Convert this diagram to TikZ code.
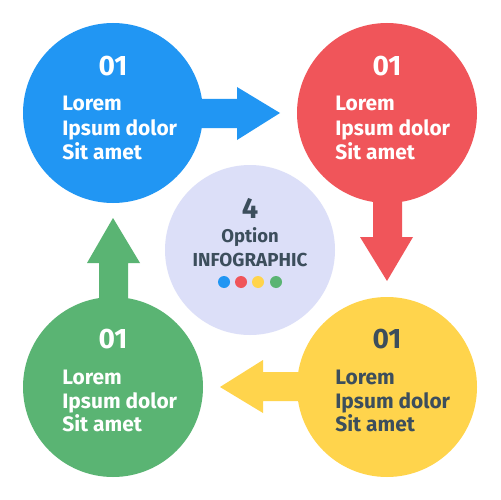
\documentclass[tikz,border=0pt]{standalone}
\usepackage{fontspec}
\setmainfont{Fira Sans}
\definecolor{cblue}{RGB}{33,150,243}
\definecolor{cred}{RGB}{240,85,90}
\definecolor{cgreen}{RGB}{90,180,115}
\definecolor{cyellow}{RGB}{255,212,76}
\definecolor{ccenter}{RGB}{220,223,248}
\definecolor{cdark}{RGB}{60,78,92}
\tikzset{
  bigcirc/.style={circle,minimum size=180*0.02cm,inner sep=0pt},
  numtxt/.style={font=\bfseries\fontsize{16}{18}\selectfont,anchor=base,inner sep=0pt},
  bodytxt/.style={font=\bfseries\fontsize{11.9}{13.6}\selectfont,anchor=base west,inner sep=0pt},
  dotc/.style={circle,minimum size=12*0.02cm,inner sep=0pt}
}
\begin{document}
\begin{tikzpicture}[x=0.02cm,y=-0.02cm]
\useasboundingbox (0,0) rectangle (500,500);
\fill[white] (0,0) rectangle (500,500);
% arrows
\fill[cblue] (113,99) -- (237,99) -- (237,87) -- (280,113) -- (237,140) -- (237,128) -- (113,128) -- cycle;
\fill[cred] (373,113) -- (373,237) -- (360,237) -- (387,281) -- (413,237) -- (402,237) -- (402,113) -- cycle;
\fill[cyellow] (387,372) -- (263,372) -- (263,360) -- (220,387) -- (263,413) -- (263,401) -- (387,401) -- cycle;
\fill[cgreen] (99,387) -- (99,263) -- (87,263) -- (113,218) -- (140,263) -- (128,263) -- (128,387) -- cycle;
% circles
\node[bigcirc,fill=cblue] (c1) at (113,113) {};
\node[bigcirc,fill=cred] (c2) at (387,113) {};
\node[bigcirc,fill=cyellow] (c3) at (387,387) {};
\node[bigcirc,fill=cgreen] (c4) at (113,387) {};
\node[circle,minimum size=170*0.02cm,inner sep=0pt,fill=ccenter] (cc) at (250,250) {};
% texts
\node[numtxt,white] (n1) at (113,76) {01};
\node[bodytxt,white] (t1a) at (62,111) {Lorem};
\node[bodytxt,white] (t1b) at (62,135) {Ipsum dolor};
\node[bodytxt,white] (t1c) at (62,159) {Sit amet};
\node[numtxt,white] (n2) at (387,76) {01};
\node[bodytxt,white] (t2a) at (335,111) {Lorem};
\node[bodytxt,white] (t2b) at (335,135) {Ipsum dolor};
\node[bodytxt,white] (t2c) at (335,159) {Sit amet};
\node[numtxt,white] (n4) at (113,348) {01};
\node[bodytxt,white] (t4a) at (62,384) {Lorem};
\node[bodytxt,white] (t4b) at (62,408) {Ipsum dolor};
\node[bodytxt,white] (t4c) at (62,431) {Sit amet};
\node[numtxt,cdark] (n3) at (387,348) {01};
\node[bodytxt,cdark] (t3a) at (335,384) {Lorem};
\node[bodytxt,cdark] (t3b) at (335,408) {Ipsum dolor};
\node[bodytxt,cdark] (t3c) at (335,431) {Sit amet};
% center
\node[font=\bfseries\fontsize{16.5}{18}\selectfont,anchor=base,inner sep=0pt,cdark] (four) at (250,218) {4};
\node[font=\bfseries\fontsize{10.5}{12}\selectfont,anchor=base,inner sep=0pt,cdark] (opt) at (250,242) {Option};
\node[font=\bfseries\fontsize{10.7}{12}\selectfont,anchor=base,inner sep=0pt,cdark] (info) at (250,266) {INFOGRAPHIC};
\node[dotc,fill=cblue] (d1) at (224,282) {};
\node[dotc,fill=cred] (d2) at (241,282) {};
\node[dotc,fill=cyellow] (d3) at (258,282) {};
\node[dotc,fill=cgreen] (d4) at (276,282) {};
\end{tikzpicture}
\end{document}
